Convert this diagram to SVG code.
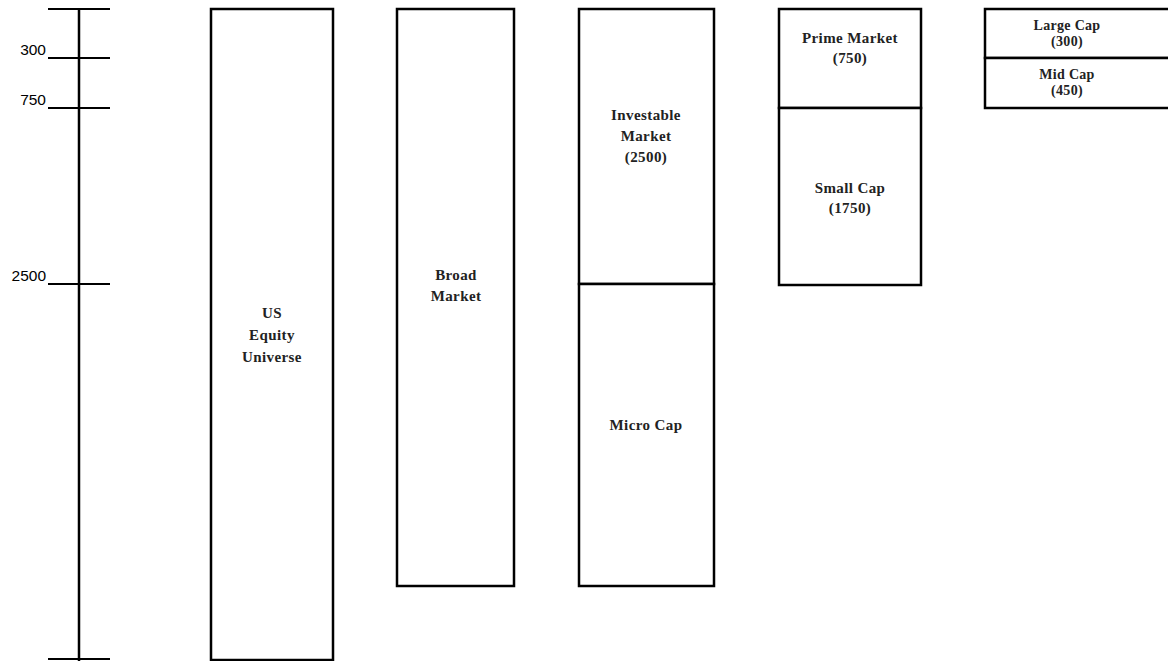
<svg xmlns="http://www.w3.org/2000/svg" width="1168" height="661" viewBox="0 0 1168 661">
<style>
.box{fill:#fff;stroke:#000;stroke-width:2.5}
.ln{stroke:#000;stroke-width:2.5;fill:none}
.tk{stroke:#000;stroke-width:2;fill:none}
.ax{font-family:"Liberation Sans",Arial,sans-serif;font-size:15.5px;fill:#000;text-anchor:end}
.lb{font-family:"Liberation Serif","Times New Roman",serif;font-weight:bold;font-size:15px;letter-spacing:0.4px;fill:#222;text-anchor:middle}
.sm{font-size:14px;letter-spacing:0.3px}
</style>
<rect width="1168" height="661" fill="#fff"/>
<g id="axis">
<line class="ln" x1="79" y1="8" x2="79" y2="661"/>
<line class="tk" x1="48" y1="9" x2="110" y2="9"/>
<line class="tk" x1="48" y1="58" x2="110" y2="58"/>
<line class="tk" x1="48" y1="108" x2="110" y2="108"/>
<line class="tk" x1="48" y1="284" x2="110" y2="284"/>
<line class="tk" x1="48" y1="659" x2="110" y2="659"/>
<text class="ax" x="46" y="55">300</text>
<text class="ax" x="46" y="105">750</text>
<text class="ax" x="46" y="281">2500</text>
</g>
<g id="us-equity-universe">
<rect class="box" x="211" y="9" width="122" height="651"/>
<text class="lb" x="272" y="318">US</text>
<text class="lb" x="272" y="340">Equity</text>
<text class="lb" x="272" y="362">Universe</text>
</g>
<g id="broad-market">
<rect class="box" x="397" y="9" width="117" height="577"/>
<text class="lb" x="456" y="280">Broad</text>
<text class="lb" x="456" y="301">Market</text>
</g>
<g id="investable-market">
<rect class="box" x="579" y="9" width="135" height="275"/>
<text class="lb" x="646" y="120">Investable</text>
<text class="lb" x="646" y="141">Market</text>
<text class="lb" x="646" y="162">(2500)</text>
</g>
<g id="micro-cap">
<rect class="box" x="579" y="284" width="135" height="302"/>
<text class="lb" x="646" y="430">Micro Cap</text>
</g>
<g id="prime-market">
<rect class="box" x="779" y="9" width="142" height="99"/>
<text class="lb" x="850" y="43">Prime Market</text>
<text class="lb" x="850" y="63">(750)</text>
</g>
<g id="small-cap">
<rect class="box" x="779" y="108" width="142" height="177"/>
<text class="lb" x="850" y="193">Small Cap</text>
<text class="lb" x="850" y="213">(1750)</text>
</g>
<g id="large-cap">
<rect class="box" x="985" y="9" width="200" height="49"/>
<text class="lb sm" x="1067" y="30">Large Cap</text>
<text class="lb sm" x="1067" y="46">(300)</text>
</g>
<g id="mid-cap">
<rect class="box" x="985" y="58" width="200" height="50"/>
<text class="lb sm" x="1067" y="79">Mid Cap</text>
<text class="lb sm" x="1067" y="95">(450)</text>
</g>
<g id="connectors"></g>
</svg>
